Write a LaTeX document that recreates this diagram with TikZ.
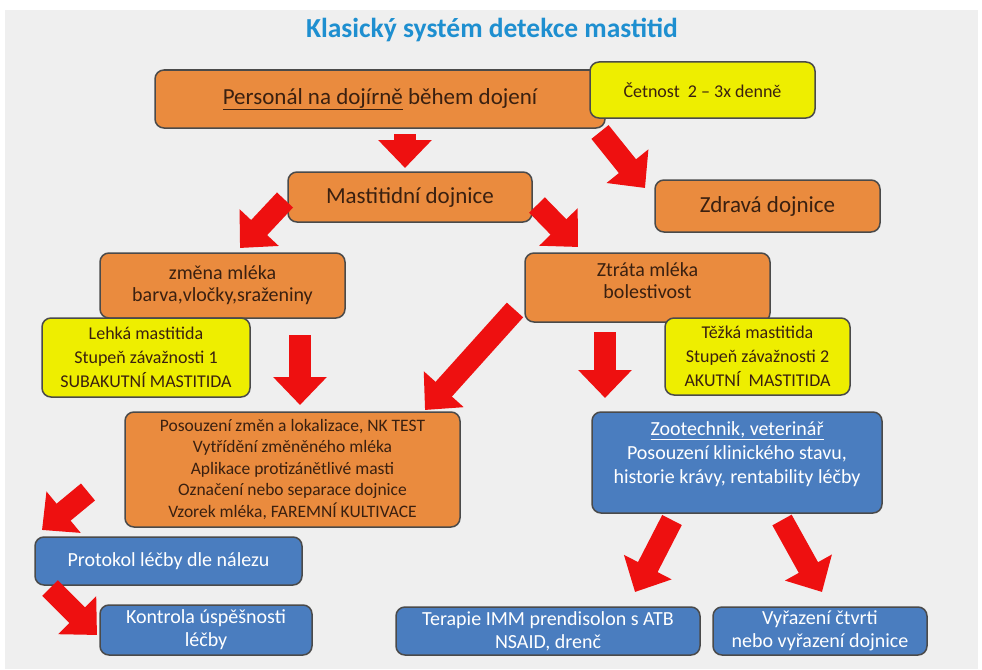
\documentclass[tikz,border=0pt]{standalone}
\usepackage{fontspec}
\setmainfont{Carlito}
\usetikzlibrary{arrows.meta}
\definecolor{bg}{HTML}{EFEFEF}
\definecolor{org}{HTML}{EA8B3E}
\definecolor{yel}{HTML}{EEEE00}
\definecolor{blu}{HTML}{4A7DBF}
\definecolor{brd}{HTML}{4A4A4A}
\definecolor{ttl}{HTML}{1E8FD0}
\definecolor{arr}{HTML}{EE1010}
\definecolor{dtxt}{HTML}{3A2010}
\begin{document}
\begin{tikzpicture}[x=1pt,y=-1pt,
 box/.style={draw=brd, line width=1.5pt, rounded corners=9pt, align=center, inner sep=0pt},
 obox/.style={box, fill=org, text=dtxt},
 ybox/.style={box, fill=yel, text=dtxt},
 bbox/.style={box, fill=blu, text=white},
 big/.style={font=\fontsize{23}{27}\selectfont},
 mid/.style={font=\fontsize{20}{23}\selectfont},
 sml/.style={font=\fontsize{18}{24}\selectfont},
 bigarrow/.style={draw=arr, line width=22pt, -{Triangle[width=52pt,length=28pt]}}]
\useasboundingbox (0,0) rectangle (982,669);
\fill[white] (0,0) rectangle (982,669);
\fill[bg] (5,10) rectangle (978,669);
\node[font=\fontsize{27.5}{32}\selectfont\bfseries, text=ttl] (title) at (492,30) {Klasický systém detekce mastitid};
% boxes
\node[obox, big, minimum width=450pt, minimum height=58pt] (pers) at (380,99) {\underline{Personál na dojírně} během dojení};
\node[ybox, sml, minimum width=225pt, minimum height=56pt] (cet) at (702.5,90) {Četnost\ \ 2 – 3x denně};
\node[obox, big, minimum width=244pt, minimum height=50pt] (mast) at (410,197) {Mastitidní dojnice};
\node[obox, big, minimum width=225pt, minimum height=52pt] (zdr) at (767.5,206) {Zdravá dojnice};
\node[obox, font=\fontsize{20}{22}\selectfont, minimum width=245pt, minimum height=65pt] (zmena) at (222.5,285.5) {změna mléka\\barva,vločky,sraženiny};
\node[obox, minimum width=245pt, minimum height=69pt] (ztr) at (647.5,287.5) {};
\node[font=\fontsize{20}{22}\selectfont, text=dtxt, align=center] (ztrt) at (647.5,281) {Ztráta mléka\\bolestivost};
\node[ybox, sml, minimum width=208pt, minimum height=79pt] (lehka) at (146,357.5) {Lehká mastitida\\Stupeň závažnosti 1\\SUBAKUTNÍ MASTITIDA};
\node[ybox, sml, minimum width=185pt, minimum height=77pt] (tezka) at (757.5,356.5) {Těžká mastitida\\Stupeň závažnosti 2\\AKUTNÍ\ \ MASTITIDA};
\node[obox, font=\fontsize{17.5}{21.5}\selectfont, minimum width=335pt, minimum height=115pt] (pos) at (292.5,469.5) {Posouzení změn a lokalizace, NK TEST\\Vytřídění změněného mléka\\Aplikace protizánětlivé masti\\Označení nebo separace dojnice\\Vzorek mléka, FAREMNÍ KULTIVACE};
\node[bbox, minimum width=290pt, minimum height=101pt] (zoo) at (737,462.5) {};
\node[font=\fontsize{20}{24}\selectfont, text=white, align=center] (zoot) at (737,454) {\underline{Zootechnik, veterinář}\\Posouzení klinického stavu,\\historie krávy, rentability léčby};
\node[bbox, mid, minimum width=267pt, minimum height=48pt] (prot) at (168.5,561) {Protokol léčby dle nálezu};
\node[bbox, mid, minimum width=212pt, minimum height=50pt] (kont) at (206,630) {Kontrola úspěšnosti\\léčby};
\node[bbox, mid, minimum width=304pt, minimum height=48pt] (ter) at (548,631) {Terapie IMM prendisolon s ATB\\NSAID, drenč};
\node[bbox, mid, minimum width=214pt, minimum height=48pt] (vyr) at (820,631) {Vyřazení čtvrti\\nebo vyřazení dojnice};
% arrow endpoints
\coordinate (a1s) at (405,134); \coordinate (a1e) at (405,168);
\coordinate (a2s) at (600,132); \coordinate (a2e) at (645,188);
\coordinate (a3s) at (285,200); \coordinate (a3e) at (240,248);
\coordinate (a4s) at (537,205); \coordinate (a4e) at (578,247);
\coordinate (a5s) at (300,335); \coordinate (a5e) at (300,405);
\coordinate (a6s) at (515,310); \coordinate (a6e) at (425,410);
\coordinate (a7s) at (605,332); \coordinate (a7e) at (605,398);
\coordinate (a8s) at (88,492); \coordinate (a8e) at (42,530);
\coordinate (a9s) at (50,588); \coordinate (a9e) at (97,635);
\coordinate (a10s) at (672,520); \coordinate (a10e) at (635,592);
\coordinate (a11s) at (782,520); \coordinate (a11e) at (822,592);
\foreach \i in {1,...,11} \draw[bigarrow] (a\i s) -- (a\i e);
\end{tikzpicture}
\end{document}
